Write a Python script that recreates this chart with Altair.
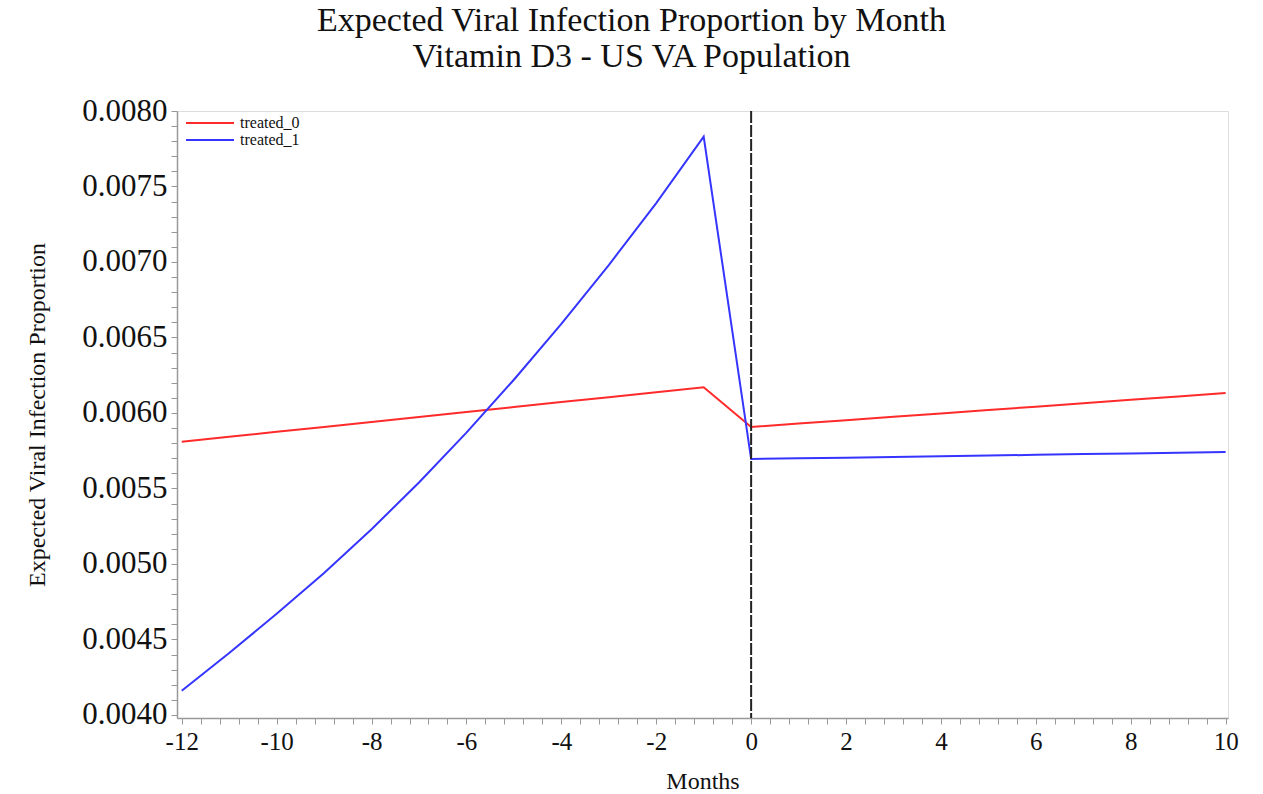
import altair as alt
import pandas as pd

months = list(range(-12, 11))

treated_0 = [0.00581, 0.005843, 0.005875, 0.005908, 0.005941, 0.005974, 0.006006,
             0.006039, 0.006072, 0.006104, 0.006137, 0.00617,
             0.005907, 0.00593, 0.005952, 0.005975, 0.005997, 0.00602, 0.006042,
             0.006065, 0.006087, 0.00611, 0.006132]
treated_1 = [0.00416, 0.00441, 0.00467, 0.00494, 0.00523, 0.00554, 0.00587,
             0.00622, 0.00659, 0.00698, 0.00739, 0.00783,
             0.005695, 0.0057, 0.005704, 0.005709, 0.005714, 0.005718, 0.005723,
             0.005728, 0.005732, 0.005737, 0.005742]
series_names = ["treated_0", "treated_1"]
series_colors = ["#ff2a2a", "#3535ff"]
ref_month = [0]

rows = []
for name, vals in zip(series_names, [treated_0, treated_1]):
    for m, v in zip(months, vals):
        rows.append({"month": m, "value": v, "series": name})
df = pd.DataFrame(rows)

FONT = "Liberation Serif"

x_ticks = [round(-12 + 0.4 * i, 1) for i in range(56)]
y_ticks = [round(0.0040 + 0.0001 * i, 4) for i in range(41)]

x_scale = alt.Scale(domain=[-12.1, 10.05], nice=False, zero=False)
y_scale = alt.Scale(domain=[0.00398, 0.0080], nice=False, zero=False)

x_axis = alt.Axis(
    values=x_ticks, tickCount=500,
    labelExpr="abs(datum.value - round(datum.value)) < 0.01 && round(datum.value) % 2 == 0 ? '' + round(datum.value) : ''",
    title="Months", titleFont=FONT, titleFontSize=24, titleFontWeight="normal",
    titleColor="#111", titlePadding=15,
    labelFont=FONT, labelFontSize=25, labelColor="#111", labelPadding=5,
    tickColor="#999", tickSize=6, domainColor="#999", domainWidth=1.5,
    grid=False, labelOverlap=False, labelFlush=False,
)
y_axis = alt.Axis(
    values=y_ticks, tickCount=500,
    labelExpr="round(datum.value * 10000) % 5 == 0 ? format(datum.value, '.4f') : ''",
    title="Expected Viral Infection Proportion", titleFont=FONT, titleFontSize=24,
    titleFontWeight="normal", titleColor="#111", titlePadding=32,
    labelFont=FONT, labelFontSize=31, labelColor="#111", labelPadding=4,
    tickColor="#999", tickSize=6, domainColor="#999", domainWidth=1.5,
    grid=False, labelOverlap=False, labelFlush=False,
)

lines = alt.Chart(df).mark_line(strokeWidth=2).encode(
    x=alt.X("month:Q", scale=x_scale, axis=x_axis),
    y=alt.Y("value:Q", scale=y_scale, axis=y_axis),
    color=alt.Color(
        "series:N",
        scale=alt.Scale(domain=series_names, range=series_colors),
        legend=alt.Legend(
            title=None, orient="none", legendX=24, legendY=3, padding=0,
            symbolType="M-3,0H3", symbolSize=256, symbolStrokeWidth=2,
            labelFont=FONT, labelFontSize=16, labelColor="#111",
            rowPadding=0, labelOffset=21,
        ),
    ),
)

vline = alt.Chart(pd.DataFrame({"month": ref_month})).mark_rule(
    color="#222", strokeWidth=2, strokeDash=[12, 2]
).encode(x=alt.X("month:Q", scale=x_scale))

chart = alt.layer(lines, vline).properties(
    width=1051,
    height=607,
    padding={"left": 177, "top": 111, "right": 35, "bottom": 76},
    autosize=alt.AutoSizeParams(type="none"),
    title=alt.TitleParams(
        text=["Expected Viral Infection Proportion by Month", "Vitamin D3 - US VA Population"],
        font=FONT, fontSize=34, fontWeight="normal", color="#111",
        anchor="middle", dx=-71, offset=21, lineHeight=36,
    ),
).configure_view(stroke="#999", strokeWidth=1.5).configure(background="white")

chart.save("out.html", embed_options={"renderer": "svg", "actions": False})
